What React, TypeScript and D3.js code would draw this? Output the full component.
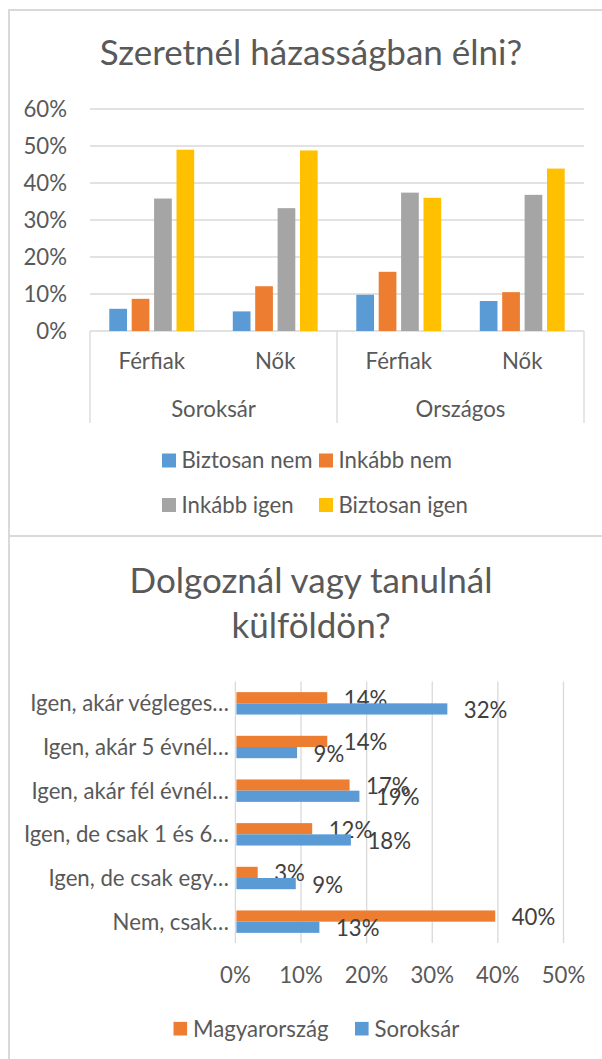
import React from "react";
import * as d3 from "d3";

// ---------- Chart 1 data ----------
const title1 = "Szeretnél házasságban élni?";
const groups1 = ["Soroksár", "Országos"];
const subcats1 = ["Férfiak", "Nők"];
const series1 = ["Biztosan nem", "Inkább nem", "Inkább igen", "Biztosan igen"];
const colors1 = ["#5B9BD5", "#ED7D31", "#A5A5A5", "#FFC000"];
// values per series, order: Soroksár-Férfiak, Soroksár-Nők, Országos-Férfiak, Országos-Nők
const biztosanNem = [0.06, 0.053, 0.098, 0.081];
const inkabbNem = [0.087, 0.121, 0.16, 0.105];
const inkabbIgen = [0.358, 0.332, 0.374, 0.368];
const biztosanIgen = [0.49, 0.488, 0.36, 0.439];
const yTicks1 = [0, 0.1, 0.2, 0.3, 0.4, 0.5, 0.6];

// ---------- Chart 2 data ----------
const title2a = "Dolgoznál vagy tanulnál";
const title2b = "külföldön?";
const categories2 = [
  "Igen, akár végleges…",
  "Igen, akár 5 évnél…",
  "Igen, akár fél évnél…",
  "Igen, de csak 1 és 6…",
  "Igen, de csak egy…",
  "Nem, csak…",
];
const series2 = ["Magyarország", "Soroksár"];
const colors2 = ["#ED7D31", "#5B9BD5"];
const magyarorszag = [0.14, 0.14, 0.174, 0.117, 0.034, 0.396];
const soroksar = [0.323, 0.094, 0.189, 0.176, 0.092, 0.128];
const xTicks2 = [0, 0.1, 0.2, 0.3, 0.4, 0.5];

const FONT = "Lato, 'Open Sans', sans-serif";
const TXT = "#595959";
const LBL = "#404040";
const GRID = "#D9D9D9";
const FS = 22.2;
const TFS = 35;

export default function App() {
  const pct = d3.format(".0%");

  // ---- Chart 1 scales ----
  const seriesVals1 = [biztosanNem, inkabbNem, inkabbIgen, biztosanIgen];
  const slots1 = groups1.flatMap((g) => subcats1.map((s) => `${g}|${s}`));
  const x1 = d3.scaleBand<string>().domain(slots1).range([90, 584]).padding(0);
  const y1 = d3.scaleLinear().domain([0, 0.6]).range([331, 109]);
  const inner1 = d3
    .scaleBand<string>()
    .domain(series1)
    .range([-42.45, 42.45])
    .paddingInner(0.21)
    .paddingOuter(0);
  const groupX = d3.scaleBand<string>().domain(groups1).range([90, 584]);

  // ---- Chart 2 scales ----
  const seriesVals2 = [magyarorszag, soroksar];
  const x2 = d3.scaleLinear().domain([0, 0.5]).range([235.4, 563.5]);
  const y2 = d3.scaleBand<string>().domain(categories2).range([681.5, 943.5]).padding(0);
  const inner2 = d3.scaleBand<string>().domain(series2).range([-11.2, 11.2]).padding(0);

  return (
    <svg
      width={602}
      height={1059}
      style={{ position: "absolute", left: 0, top: 0, background: "#fff" }}
      fontFamily={FONT}
    >
      <rect x={0} y={0} width={602} height={1059} fill="#fff" />
      {/* frames */}
      <line x1={8} x2={602} y1={10} y2={10} stroke={GRID} strokeWidth={2} />
      <line x1={9} x2={9} y1={9} y2={1059} stroke={GRID} strokeWidth={2} />
      <line x1={8} x2={602} y1={536} y2={536} stroke={GRID} strokeWidth={2} />

      {/* ===== Chart 1 ===== */}
      <text x={311} y={65} textAnchor="middle" fontSize={TFS} fill={TXT}>
        {title1}
      </text>
      {yTicks1.map((t) => (
        <g key={t}>
          <line x1={90} x2={584} y1={y1(t)} y2={y1(t)} stroke={GRID} strokeWidth={1.3} />
          <text x={67} y={y1(t)} dy="0.36em" textAnchor="end" fontSize={FS} fill={TXT}>
            {pct(t)}
          </text>
        </g>
      ))}
      {slots1.map((slot, i) => {
        const cx = (x1(slot) as number) + x1.bandwidth() / 2;
        return (
          <g key={slot}>
            {series1.map((s, k) => {
              const v = seriesVals1[k][i];
              const bx = cx + (inner1(s) as number);
              return (
                <rect
                  key={s}
                  x={bx}
                  y={y1(v)}
                  width={inner1.bandwidth()}
                  height={y1(0) - y1(v)}
                  fill={colors1[k]}
                />
              );
            })}
            <text x={cx} y={369} textAnchor="middle" fontSize={FS} fill={TXT}>
              {slot.split("|")[1]}
            </text>
          </g>
        );
      })}
      {/* category dividers */}
      {[90, (groupX(groups1[1]) as number), 584].map((xx, i) => (
        <line key={i} x1={xx} x2={xx} y1={331} y2={423} stroke={GRID} strokeWidth={1.3} />
      ))}
      {groups1.map((g) => (
        <text
          key={g}
          x={(groupX(g) as number) + groupX.bandwidth() / 2}
          y={417}
          textAnchor="middle"
          fontSize={FS}
          fill={TXT}
        >
          {g}
        </text>
      ))}
      {/* legend 1 */}
      {series1.map((s, k) => {
        const col = k % 2;
        const row = Math.floor(k / 2);
        const lx = col === 0 ? 162 : 319;
        const cy = row === 0 ? 460.5 : 505;
        return (
          <g key={s}>
            <rect x={lx} y={cy - 7} width={14} height={14} fill={colors1[k]} />
            <text x={lx + 19.5} y={cy} dy="0.36em" fontSize={FS} fill={TXT}>
              {s}
            </text>
          </g>
        );
      })}

      {/* ===== Chart 2 ===== */}
      <text x={311} y={593} textAnchor="middle" fontSize={TFS} fill={TXT}>
        {title2a}
      </text>
      <text x={311} y={638} textAnchor="middle" fontSize={TFS} fill={TXT}>
        {title2b}
      </text>
      {xTicks2.map((t) => (
        <g key={t}>
          <line x1={x2(t)} x2={x2(t)} y1={681.5} y2={943} stroke={GRID} strokeWidth={1.3} />
          <text x={x2(t)} y={983} textAnchor="middle" fontSize={FS} fill={TXT}>
            {pct(t)}
          </text>
        </g>
      ))}
      {categories2.map((c, i) => {
        const cy = (y2(c) as number) + y2.bandwidth() / 2;
        return (
          <g key={c}>
            <text x={229} y={cy} dy="0.36em" textAnchor="end" fontSize={FS} fill={TXT}>
              {c}
            </text>
            {series2.map((s, k) => {
              const v = seriesVals2[k][i];
              const by = cy + (inner2(s) as number);
              return (
                <g key={s}>
                  <rect
                    x={x2(0) + 1}
                    y={by}
                    width={x2(v) - x2(0) - 1}
                    height={inner2.bandwidth()}
                    fill={colors2[k]}
                  />
                  <text
                    x={x2(v) + 16.5}
                    y={by + inner2.bandwidth() / 2 + 1}
                    dy="0.36em"
                    fontSize={FS}
                    fill={LBL}
                  >
                    {pct(v)}
                  </text>
                </g>
              );
            })}
          </g>
        );
      })}
      {/* legend 2 */}
      {series2.map((s, k) => {
        const lx = k === 0 ? 173.5 : 355;
        const cy = 1028.7;
        return (
          <g key={s}>
            <rect x={lx} y={cy - 6.8} width={13.6} height={13.6} fill={colors2[k]} />
            <text x={lx + 19.5} y={cy} dy="0.36em" fontSize={FS} fill={TXT}>
              {s}
            </text>
          </g>
        );
      })}
    </svg>
  );
}
